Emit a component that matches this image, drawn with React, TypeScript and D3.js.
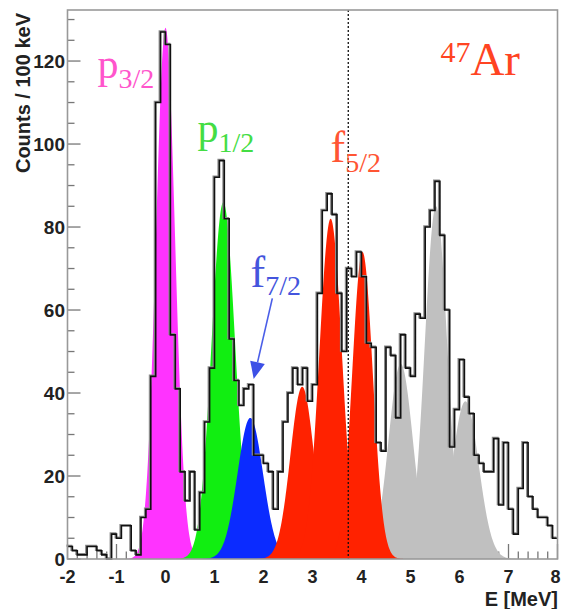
import React from "react";
import * as d3 from "d3";

const W = 561;
const H = 609;

// histogram: 100 keV bins from -2.0 MeV
const binStart = -2.0;
const binWidth = 0.1;
const counts = [
  3, 2, 1, 1, 3, 3, 2, 1, 0, 6,
  5, 8, 8, 2, 1, 10, 12, 44, 110, 127,
  124, 54, 41, 21, 14, 21, 7, 16, 33, 46,
  92, 96, 82, 53, 43, 37, 41, 42, 25, 25,
  23, 21, 12, 21, 33, 40, 46, 42, 46, 38,
  42, 64, 84, 88, 83, 64, 50, 70, 68, 74,
  68, 52, 51, 28, 26, 51, 49, 34, 54, 46,
  44, 59, 58, 80, 84, 91, 78, 60, 27, 36,
  48, 39, 35, 25, 23, 21, 21, 29, 13, 28,
  12, 6, 17, 28, 15, 12, 10, 10, 8, 5,
];

// fitted peak components (drawn in this order)
const peakCenters = [4.8, 5.52, 6.12, 0.0, 1.18, 1.73, 2.79, 3.37, 4.02];
const peakHeights = [47, 85, 38, 128, 86, 34, 41.5, 82, 74];
const peakSigmas = [0.25, 0.23, 0.27, 0.195, 0.24, 0.26, 0.24, 0.23, 0.21];
const peakColors = ["#c0c0c0", "#c0c0c0", "#c0c0c0", "#ff33ff", "#11ee11", "#0b2bff", "#ff2200", "#ff2200", "#ff2200"];

const xTicks = [-2, -1, 0, 1, 2, 3, 4, 5, 6, 7, 8];
const yTicks = [0, 20, 40, 60, 80, 100, 120];
const thresholdE = 3.73;

const serif = "'Liberation Serif', 'Times New Roman', serif";
const sans = "'Liberation Sans', Arial, Helvetica, sans-serif";

export default function App() {
  const x = d3.scaleLinear().domain([-2, 8]).range([67.5, 557.5]);
  const y = d3.scaleLinear().domain([0, 132.3]).range([559, 10]);

  const minorX = d3.range(-2, 8.0001, 0.2).map((v) => Math.round(v * 10) / 10);
  const minorY = d3.range(0, 131, 5);

  const area = d3
    .area<[number, number]>()
    .x((d) => x(d[0]))
    .y0(y(0))
    .y1((d) => y(d[1]));

  const peakPaths = peakCenters.map((c, i) => {
    const s = peakSigmas[i];
    const h = peakHeights[i];
    const pts: [number, number][] = d3
      .range(c - 4 * s, c + 4 * s + 1e-9, s / 25)
      .map((e) => [e, h * Math.exp(-((e - c) ** 2) / (2 * s * s))]);
    return area(pts) as string;
  });

  const histPts: [number, number][] = counts.map((v, i) => [binStart + i * binWidth, v]);
  histPts.push([binStart + counts.length * binWidth, counts[counts.length - 1]]);
  const histLine = d3
    .line<[number, number]>()
    .x((d) => x(d[0]))
    .y((d) => y(d[1]))
    .curve(d3.curveStepAfter)(histPts) as string;

  // arrow for f7/2
  const a0 = [x(2.18), y(62.8)];
  const a1 = [x(1.8), y(43.4)];
  const ang = Math.atan2(a1[1] - a0[1], a1[0] - a0[0]);
  const hl = 17;
  const hw = 7.5;
  const bx = a1[0] - hl * Math.cos(ang);
  const by = a1[1] - hl * Math.sin(ang);
  const arrowHead = `${a1[0]},${a1[1]} ${bx + hw * Math.sin(ang)},${by - hw * Math.cos(ang)} ${bx - hw * Math.sin(ang)},${by + hw * Math.cos(ang)}`;

  return (
    <svg width={W} height={H} style={{ position: "absolute", left: 0, top: 0, background: "#fff" }}>
      {/* ticks */}
      <g stroke="#777" strokeWidth={1.3}>
        {minorX.map((t) => (
          <line key={"mx" + t} x1={x(t)} x2={x(t)} y1={y(0)} y2={y(0) - (Number.isInteger(t) ? 15 : 7.5)} />
        ))}
        {minorY.map((t) => (
          <line key={"my" + t} x1={x(-2)} x2={x(-2) + (t % 20 === 0 ? 13 : 7)} y1={y(t)} y2={y(t)} />
        ))}
      </g>
      {/* fit components */}
      {peakPaths.map((p, i) => (
        <path key={"pk" + i} d={p} fill={peakColors[i]} stroke="none" />
      ))}
      {/* histogram */}
      <path d={histLine} fill="none" stroke="#8c8c8c" strokeWidth={2} transform="translate(-1,-0.8)" />
      <path d={histLine} fill="none" stroke="#111" strokeWidth={1.6} />
      {/* threshold */}
      <line x1={x(thresholdE)} x2={x(thresholdE)} y1={y(132.3)} y2={y(0)} stroke="#111" strokeWidth={1.3} strokeDasharray="2,2" />
      {/* frame */}
      <rect x={x(-2)} y={y(132.3)} width={x(8) - x(-2)} height={y(0) - y(132.3)} fill="none" stroke="#999" strokeWidth={1.6} />
      {/* tick labels */}
      <g fontFamily={sans} fontWeight="bold" fill="#222">
        {yTicks.map((t) => (
          <text key={"yl" + t} x={65} y={y(t) + 7} textAnchor="end" fontSize={19}>
            {t}
          </text>
        ))}
        {xTicks.map((t, i) => (
          <text
            key={"xl" + t}
            x={i === xTicks.length - 1 ? 560.5 : x(t)}
            y={583}
            textAnchor={i === xTicks.length - 1 ? "end" : "middle"}
            fontSize={18}
          >
            {t}
          </text>
        ))}
      </g>
      <text x={558} y={606} textAnchor="end" fontFamily={sans} fontWeight="bold" fontSize={20} fill="#222">
        E [MeV]
      </text>
      <text transform="translate(30,13) rotate(-90)" textAnchor="end" fontFamily={sans} fontWeight="bold" fontSize={20} fill="#222">
        Counts / 100 keV
      </text>
      {/* state labels */}
      <g fontFamily={serif}>
        <text x={x(-1.388)} y={y(115.9)} fill="#ff55cc">
          <tspan fontSize={42}>p</tspan>
          <tspan fontSize={28} dy={10}>3/2</tspan>
        </text>
        <text x={x(0.653)} y={y(100.5)} fill="#44dd44">
          <tspan fontSize={42}>p</tspan>
          <tspan fontSize={28} dy={10}>1/2</tspan>
        </text>
        <text x={x(1.735)} y={y(65.5)} fill="#4455dd">
          <tspan fontSize={44}>f</tspan>
          <tspan fontSize={28} dy={8}>7/2</tspan>
        </text>
        <text x={x(3.367)} y={y(95.7)} fill="#ff5533">
          <tspan fontSize={44}>f</tspan>
          <tspan fontSize={28} dy={10}>5/2</tspan>
        </text>
        <text x={x(5.61)} y={y(119.8)} fill="#ff4422">
          <tspan fontSize={30}>47</tspan>
          <tspan fontSize={47} dy={13}>Ar</tspan>
        </text>
      </g>
      {/* arrow */}
      <line x1={a0[0]} y1={a0[1]} x2={bx} y2={by} stroke="#4a5ee8" strokeWidth={1.6} />
      <polygon points={arrowHead} fill="#3d50e6" />
    </svg>
  );
}
